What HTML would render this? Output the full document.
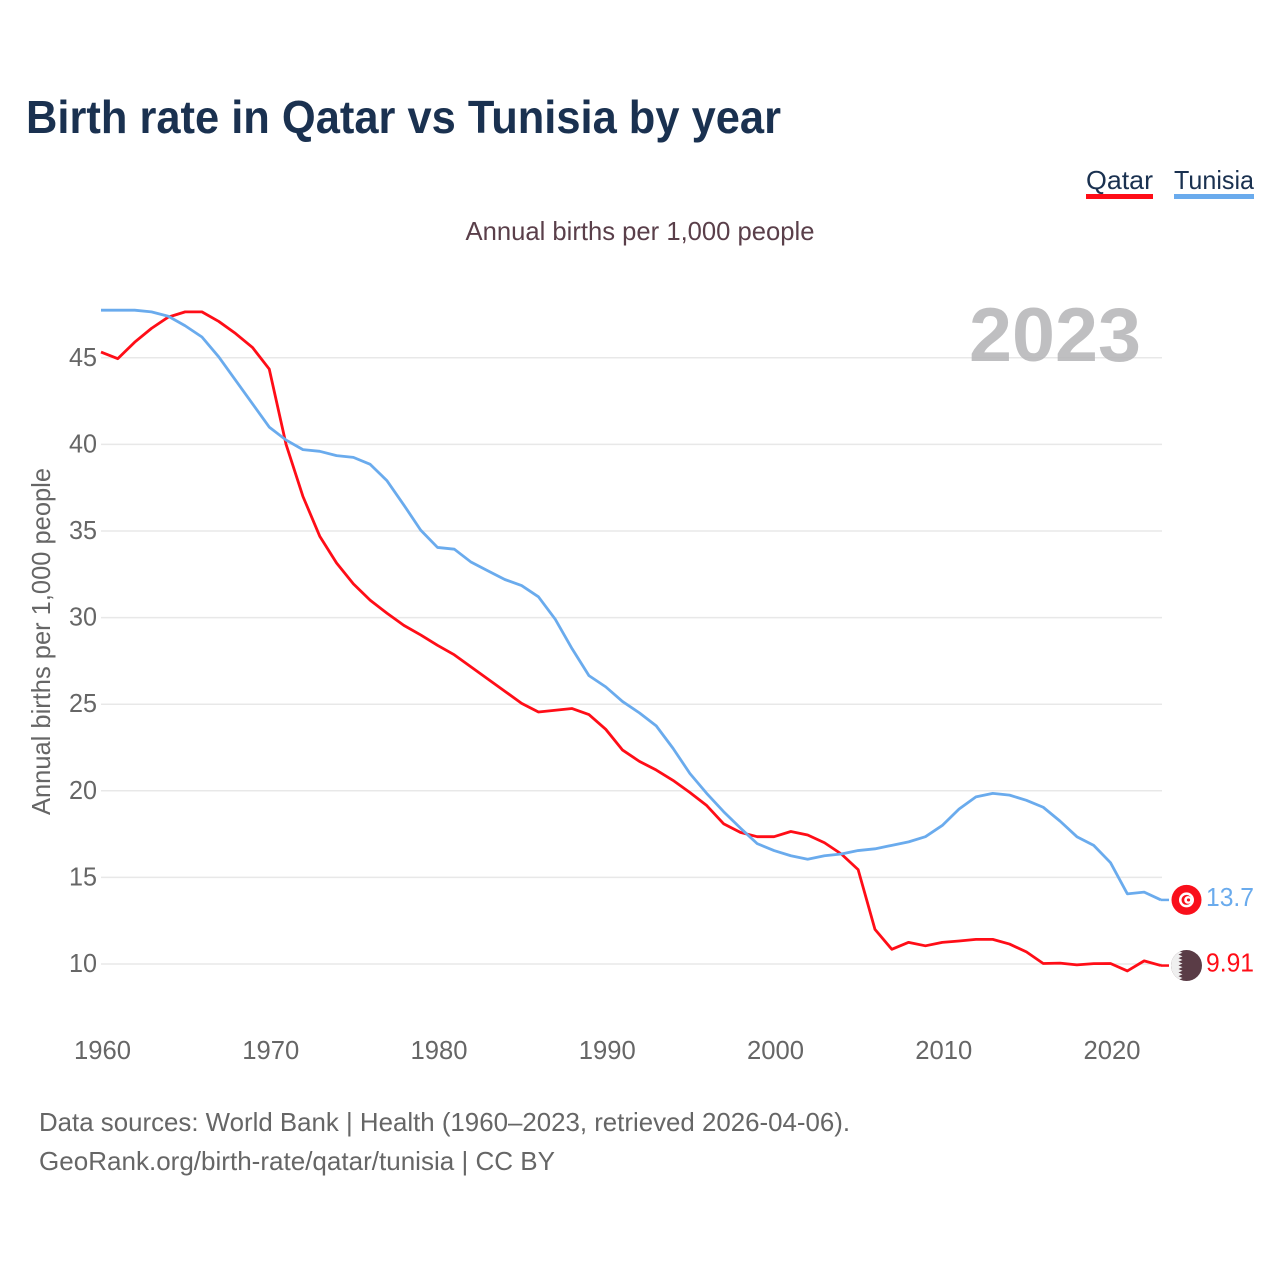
<!DOCTYPE html>
<html lang="en">
<head>
<meta charset="utf-8">
<title>Birth rate in Qatar vs Tunisia by year</title>
<style>
html,body{margin:0;padding:0;background:#fff;width:1280px;height:1280px;overflow:hidden}
svg{display:block}
text{font-family:"Liberation Sans",Arial,sans-serif}
</style>
</head>
<body>
<svg id="chart" xmlns="http://www.w3.org/2000/svg" width="1280" height="1280" viewBox="0 0 1280 1280">
  <rect width="1280" height="1280" fill="#fff"/>
  <text x="26" y="133" font-size="46" font-weight="700" fill="#1a3150" textLength="755" lengthAdjust="spacingAndGlyphs">Birth rate in Qatar vs Tunisia by year</text>

  <g>
    <g>
      <text x="1086" y="189" font-size="26" fill="#1a3150" textLength="67" lengthAdjust="spacingAndGlyphs">Qatar</text>
      <rect x="1086" y="194" width="67" height="5" fill="#ff0d17"/>
    </g>
    <g>
      <text x="1174" y="189" font-size="26" fill="#1a3150" textLength="80" lengthAdjust="spacingAndGlyphs">Tunisia</text>
      <rect x="1174" y="194" width="80" height="5" fill="#6aabed"/>
    </g>
  </g>

  <text x="640" y="240" font-size="26" fill="#5a3f4a" text-anchor="middle" textLength="349" lengthAdjust="spacingAndGlyphs">Annual births per 1,000 people</text>

  <g id="grid"></g>

  <text x="969" y="361" font-size="76" font-weight="700" fill="#b4b4b6" fill-opacity="0.85" textLength="172" lengthAdjust="spacingAndGlyphs">2023</text>

  <g id="ylabels"></g>
  <g id="xlabels"></g>

  <text transform="translate(50,815) rotate(-90)" font-size="26" fill="#666" textLength="347" lengthAdjust="spacingAndGlyphs">Annual births per 1,000 people</text>

  <g id="series"></g>

  <g id="end-markers"></g>

  <text x="39" y="1131" font-size="26" fill="#666" textLength="811" lengthAdjust="spacingAndGlyphs">Data sources: World Bank | Health (1960–2023, retrieved 2026-04-06).</text>
  <text x="39" y="1170" font-size="26" fill="#666" textLength="516" lengthAdjust="spacingAndGlyphs">GeoRank.org/birth-rate/qatar/tunisia | CC BY</text>
</svg>

<script>
const startYear = 1960;
const xTickLabels = [1960, 1970, 1980, 1990, 2000, 2010, 2020];
const yTickLabels = [10, 15, 20, 25, 30, 35, 40, 45];
const qatarValues = [
  45.33, 44.95, 45.9, 46.7, 47.35, 47.65, 47.65, 47.1, 46.4, 45.6,
  44.35, 40.0, 37.0, 34.7, 33.15, 31.95, 31.0, 30.25, 29.55, 29.0,
  28.4, 27.85, 27.15, 26.45, 25.75, 25.05, 24.55, 24.65, 24.75, 24.4,
  23.55, 22.35, 21.7, 21.2, 20.6, 19.9, 19.15, 18.1, 17.6, 17.35,
  17.35, 17.65, 17.45, 17.0, 16.35, 15.45, 12.0, 10.85, 11.25, 11.05,
  11.25, 11.33, 11.42, 11.42, 11.15, 10.7, 10.03, 10.05, 9.95, 10.02,
  10.03, 9.6, 10.18, 9.91
];
const tunisiaValues = [
  47.75, 47.75, 47.75, 47.65, 47.4, 46.85, 46.2, 45.05, 43.7, 42.35,
  41.0, 40.25, 39.7, 39.6, 39.35, 39.25, 38.85, 37.9, 36.5, 35.05,
  34.05, 33.95, 33.2, 32.7, 32.2, 31.85, 31.2, 29.9, 28.2, 26.65,
  26.0, 25.15, 24.5, 23.75, 22.45, 21.0, 19.85, 18.8, 17.85, 16.95,
  16.55, 16.25, 16.05, 16.25, 16.35, 16.55, 16.65, 16.85, 17.05, 17.35,
  18.0, 18.95, 19.65, 19.85, 19.75, 19.45, 19.05, 18.25, 17.35, 16.85,
  15.85, 14.05, 14.15, 13.7
];

const SVG_NS = 'http://www.w3.org/2000/svg';
const xScale = year => 101 + (year - 1960) * (1161 - 101) / 63;
const yScale = value => 964 - (value - 10) * 17.32;

function make(tag, parent, props) {
  const el = document.createElementNS(SVG_NS, tag);
  for (const key in props) el.setAttribute(key, props[key]);
  parent.appendChild(el);
  return el;
}

const gridGroup = document.getElementById('grid');
const yLabelGroup = document.getElementById('ylabels');
yTickLabels.forEach(tick => {
  const line = make('line', gridGroup, {x1: 101, x2: 1162, y1: yScale(tick), y2: yScale(tick), stroke: '#e8e8e8', 'stroke-width': 1.5});
  
  
  const label = make('text', yLabelGroup, {x: 97, y: yScale(tick) + 8, 'font-size': 26, fill: '#666', 'text-anchor': 'end', textLength: 28, lengthAdjust: 'spacingAndGlyphs'});
  
  
  label.textContent = tick;
});

const xLabelGroup = document.getElementById('xlabels');
xTickLabels.forEach(tick => {
  const label = make('text', xLabelGroup, {x: xScale(tick) + 1.5, y: 1059, 'font-size': 26, fill: '#666', 'text-anchor': 'middle', textLength: 57, lengthAdjust: 'spacingAndGlyphs'});
  
  
  label.textContent = tick;
});

const seriesGroup = document.getElementById('series');
function drawSeries(values, color) {
  const points = values.map((v, i) => xScale(startYear + i).toFixed(2) + ',' + yScale(v).toFixed(2)).join(' ');
  return make('polyline', seriesGroup, {points: points, fill: 'none', stroke: color, 'stroke-width': 2.8, 'stroke-linejoin': 'round'});
}
const qatarLine = drawSeries(qatarValues, '#ff0d17');


const tunisiaLine = drawSeries(tunisiaValues, '#6aabed');



const markerGroup = document.getElementById('end-markers');
const lastX = xScale(startYear + qatarValues.length - 1);
const flagX = 1186.5;

/* Tunisia flag marker */
const tunisiaY = yScale(tunisiaValues[tunisiaValues.length - 1]);
const tunisiaFlag = make('g', markerGroup, {transform: 'translate(' + flagX + ',' + tunisiaY + ')'});


make('line', markerGroup, {x1: lastX, x2: 1169, y1: tunisiaY, y2: tunisiaY, stroke: '#6aabed', 'stroke-width': 2.5});
make('circle', tunisiaFlag, {r: 15, fill: '#f90f1b'});
make('circle', tunisiaFlag, {r: 7.5, fill: '#fff'});
make('circle', tunisiaFlag, {cx: 0, r: 5, fill: '#f90f1b'});
make('circle', tunisiaFlag, {cx: 1.5, r: 3.8, fill: '#fff'});
make('circle', tunisiaFlag, {cx: 2, r: 1.6, fill: '#f90f1b'});
const tunisiaLabel = make('text', markerGroup, {x: 1206, y: tunisiaY + 6, 'font-size': 26, fill: '#6aabed', textLength: 48, lengthAdjust: 'spacingAndGlyphs'});


tunisiaLabel.textContent = tunisiaValues[tunisiaValues.length - 1];

/* Qatar flag marker */
const qatarY = yScale(qatarValues[qatarValues.length - 1]);
const qatarFlag = make('g', markerGroup, {transform: 'translate(' + flagX + ',' + qatarY + ')'});


make('line', markerGroup, {x1: lastX, x2: 1169, y1: qatarY, y2: qatarY, stroke: '#ff0d17', 'stroke-width': 2.5});
const clip = make('clipPath', markerGroup, {id: 'qatar-clip'});
make('circle', clip, {r: 15.5});
make('circle', qatarFlag, {r: 15.5, fill: '#5a3c46'});
make('path', qatarFlag, {d: 'M-4,-16 L-16,-16 L-16,16 L-4,16 L-8,14.2 L-4,12.4 L-8,10.6 L-4,8.8 L-8,7 L-4,5.2 L-8,3.4 L-4,1.6 L-8,-0.2 L-4,-2 L-8,-3.8 L-4,-5.6 L-8,-7.4 L-4,-9.2 L-8,-11 L-4,-12.8 L-8,-14.6 Z', fill: '#efefef', 'clip-path': 'url(#qatar-clip)'});
const qatarLabel = make('text', markerGroup, {x: 1206, y: qatarY + 6, 'font-size': 26, fill: '#ff0d17', textLength: 48, lengthAdjust: 'spacingAndGlyphs'});


qatarLabel.textContent = qatarValues[qatarValues.length - 1];
</script>
</body>
</html>
